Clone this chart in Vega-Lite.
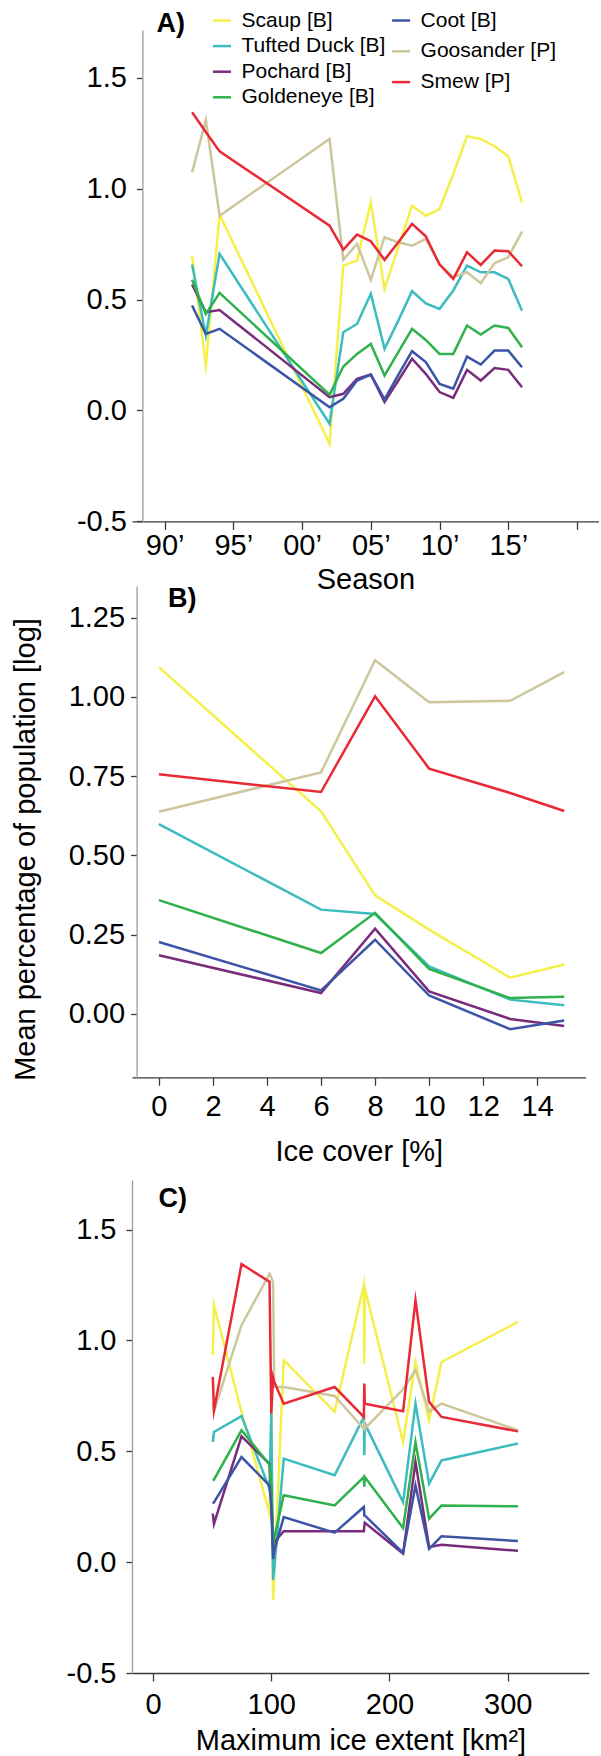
{
"$schema": "https://vega.github.io/schema/vega-lite/v6.json",
"background": "white",
"padding": {"left": 11, "top": 9, "right": 0, "bottom": 2},
"config": {
  "view": {"stroke": null},
  "font": "Liberation Sans",
  "axis": {"labelFont": "Liberation Sans", "labelFontSize": 29, "labelColor": "#000", "titleFont": "Liberation Sans", "titleFontSize": 29, "titleFontWeight": "normal", "titleColor": "#000", "grid": false, "tickColor": "#3a3a3a", "tickWidth": 1.3, "domainWidth": 1.3, "labelFlush": false, "labelOverlap": false},
  "axisX": {"domainColor": "#3a3a3a", "tickSize": 8},
  "axisY": {"domainColor": "#9d9d9d", "tickSize": 6, "labelPadding": 10},
  "title": {"font": "Liberation Sans", "fontSize": 27, "fontWeight": "bold", "color": "#000", "anchor": "start", "frame": "group", "baseline": "alphabetic"},
  "legend": {"labelFont": "Liberation Sans", "labelFontSize": 21, "labelColor": "#000", "symbolType": "stroke", "symbolStrokeWidth": 4, "symbolSize": 324, "labelOffset": 9, "padding": 0},
  "line": {"strokeWidth": 2.5, "strokeMiterLimit": 10}
},
"datasets": {
  "a": [
    {"s":"Scaup [B]","x":1992,"v":0.698},{"s":"Scaup [B]","x":1993,"v":0.203},{"s":"Scaup [B]","x":1994,"v":0.883},{"s":"Scaup [B]","x":2002,"v":-0.15},{"s":"Scaup [B]","x":2003,"v":0.653},{"s":"Scaup [B]","x":2004,"v":0.676},{"s":"Scaup [B]","x":2005,"v":0.938},{"s":"Scaup [B]","x":2006,"v":0.548},{"s":"Scaup [B]","x":2007,"v":0.736},{"s":"Scaup [B]","x":2008,"v":0.923},{"s":"Scaup [B]","x":2009,"v":0.878},{"s":"Scaup [B]","x":2010,"v":0.908},{"s":"Scaup [B]","x":2011,"v":1.066},{"s":"Scaup [B]","x":2012,"v":1.236},{"s":"Scaup [B]","x":2013,"v":1.224},{"s":"Scaup [B]","x":2014,"v":1.191},{"s":"Scaup [B]","x":2015,"v":1.146},{"s":"Scaup [B]","x":2016,"v":0.938},
    {"s":"Tufted Duck [B]","x":1992,"v":0.658},{"s":"Tufted Duck [B]","x":1993,"v":0.338},{"s":"Tufted Duck [B]","x":1994,"v":0.706},{"s":"Tufted Duck [B]","x":2002,"v":-0.06},{"s":"Tufted Duck [B]","x":2003,"v":0.353},{"s":"Tufted Duck [B]","x":2004,"v":0.39},{"s":"Tufted Duck [B]","x":2005,"v":0.526},{"s":"Tufted Duck [B]","x":2006,"v":0.278},{"s":"Tufted Duck [B]","x":2007,"v":0.405},{"s":"Tufted Duck [B]","x":2008,"v":0.538},{"s":"Tufted Duck [B]","x":2009,"v":0.483},{"s":"Tufted Duck [B]","x":2010,"v":0.458},{"s":"Tufted Duck [B]","x":2011,"v":0.541},{"s":"Tufted Duck [B]","x":2012,"v":0.653},{"s":"Tufted Duck [B]","x":2013,"v":0.623},{"s":"Tufted Duck [B]","x":2014,"v":0.623},{"s":"Tufted Duck [B]","x":2015,"v":0.593},{"s":"Tufted Duck [B]","x":2016,"v":0.45},
    {"s":"Pochard [B]","x":1992,"v":0.568},{"s":"Pochard [B]","x":1993,"v":0.443},{"s":"Pochard [B]","x":1994,"v":0.453},{"s":"Pochard [B]","x":2002,"v":0.06},{"s":"Pochard [B]","x":2003,"v":0.075},{"s":"Pochard [B]","x":2004,"v":0.143},{"s":"Pochard [B]","x":2005,"v":0.162},{"s":"Pochard [B]","x":2006,"v":0.038},{"s":"Pochard [B]","x":2007,"v":0.135},{"s":"Pochard [B]","x":2008,"v":0.233},{"s":"Pochard [B]","x":2009,"v":0.165},{"s":"Pochard [B]","x":2010,"v":0.083},{"s":"Pochard [B]","x":2011,"v":0.057},{"s":"Pochard [B]","x":2012,"v":0.183},{"s":"Pochard [B]","x":2013,"v":0.135},{"s":"Pochard [B]","x":2014,"v":0.191},{"s":"Pochard [B]","x":2015,"v":0.183},{"s":"Pochard [B]","x":2016,"v":0.105},
    {"s":"Goldeneye [B]","x":1992,"v":0.589},{"s":"Goldeneye [B]","x":1993,"v":0.435},{"s":"Goldeneye [B]","x":1994,"v":0.53},{"s":"Goldeneye [B]","x":2002,"v":0.071},{"s":"Goldeneye [B]","x":2003,"v":0.198},{"s":"Goldeneye [B]","x":2004,"v":0.255},{"s":"Goldeneye [B]","x":2005,"v":0.3},{"s":"Goldeneye [B]","x":2006,"v":0.158},{"s":"Goldeneye [B]","x":2007,"v":0.263},{"s":"Goldeneye [B]","x":2008,"v":0.368},{"s":"Goldeneye [B]","x":2009,"v":0.318},{"s":"Goldeneye [B]","x":2010,"v":0.255},{"s":"Goldeneye [B]","x":2011,"v":0.255},{"s":"Goldeneye [B]","x":2012,"v":0.383},{"s":"Goldeneye [B]","x":2013,"v":0.342},{"s":"Goldeneye [B]","x":2014,"v":0.383},{"s":"Goldeneye [B]","x":2015,"v":0.372},{"s":"Goldeneye [B]","x":2016,"v":0.285},
    {"s":"Coot [B]","x":1992,"v":0.473},{"s":"Coot [B]","x":1993,"v":0.345},{"s":"Coot [B]","x":1994,"v":0.368},{"s":"Coot [B]","x":2002,"v":0.015},{"s":"Coot [B]","x":2003,"v":0.053},{"s":"Coot [B]","x":2004,"v":0.135},{"s":"Coot [B]","x":2005,"v":0.162},{"s":"Coot [B]","x":2006,"v":0.05},{"s":"Coot [B]","x":2007,"v":0.16},{"s":"Coot [B]","x":2008,"v":0.267},{"s":"Coot [B]","x":2009,"v":0.218},{"s":"Coot [B]","x":2010,"v":0.12},{"s":"Coot [B]","x":2011,"v":0.098},{"s":"Coot [B]","x":2012,"v":0.243},{"s":"Coot [B]","x":2013,"v":0.207},{"s":"Coot [B]","x":2014,"v":0.27},{"s":"Coot [B]","x":2015,"v":0.27},{"s":"Coot [B]","x":2016,"v":0.195},
    {"s":"Goosander [P]","x":1992,"v":1.073},{"s":"Goosander [P]","x":1993,"v":1.309},{"s":"Goosander [P]","x":1994,"v":0.878},{"s":"Goosander [P]","x":2002,"v":1.224},{"s":"Goosander [P]","x":2003,"v":0.679},{"s":"Goosander [P]","x":2004,"v":0.751},{"s":"Goosander [P]","x":2005,"v":0.589},{"s":"Goosander [P]","x":2006,"v":0.781},{"s":"Goosander [P]","x":2007,"v":0.758},{"s":"Goosander [P]","x":2008,"v":0.743},{"s":"Goosander [P]","x":2009,"v":0.773},{"s":"Goosander [P]","x":2010,"v":0.661},{"s":"Goosander [P]","x":2011,"v":0.601},{"s":"Goosander [P]","x":2012,"v":0.623},{"s":"Goosander [P]","x":2013,"v":0.574},{"s":"Goosander [P]","x":2014,"v":0.664},{"s":"Goosander [P]","x":2015,"v":0.691},{"s":"Goosander [P]","x":2016,"v":0.806},
    {"s":"Smew [P]","x":1992,"v":1.344},{"s":"Smew [P]","x":1993,"v":1.255},{"s":"Smew [P]","x":1994,"v":1.168},{"s":"Smew [P]","x":2002,"v":0.833},{"s":"Smew [P]","x":2003,"v":0.725},{"s":"Smew [P]","x":2004,"v":0.793},{"s":"Smew [P]","x":2005,"v":0.763},{"s":"Smew [P]","x":2006,"v":0.679},{"s":"Smew [P]","x":2007,"v":0.758},{"s":"Smew [P]","x":2008,"v":0.841},{"s":"Smew [P]","x":2009,"v":0.785},{"s":"Smew [P]","x":2010,"v":0.658},{"s":"Smew [P]","x":2011,"v":0.593},{"s":"Smew [P]","x":2012,"v":0.713},{"s":"Smew [P]","x":2013,"v":0.656},{"s":"Smew [P]","x":2014,"v":0.721},{"s":"Smew [P]","x":2015,"v":0.718},{"s":"Smew [P]","x":2016,"v":0.65}
  ],
  "b": [
    {"s":"Scaup [B]","x":0,"v":1.094},{"s":"Scaup [B]","x":6,"v":0.639},{"s":"Scaup [B]","x":8,"v":0.374},{"s":"Scaup [B]","x":10,"v":0.266},{"s":"Scaup [B]","x":13,"v":0.114},{"s":"Scaup [B]","x":15,"v":0.156},
    {"s":"Tufted Duck [B]","x":0,"v":0.599},{"s":"Tufted Duck [B]","x":6,"v":0.329},{"s":"Tufted Duck [B]","x":8,"v":0.315},{"s":"Tufted Duck [B]","x":10,"v":0.15},{"s":"Tufted Duck [B]","x":13,"v":0.045},{"s":"Tufted Duck [B]","x":15,"v":0.027},
    {"s":"Pochard [B]","x":0,"v":0.185},{"s":"Pochard [B]","x":6,"v":0.066},{"s":"Pochard [B]","x":8,"v":0.269},{"s":"Pochard [B]","x":10,"v":0.071},{"s":"Pochard [B]","x":13,"v":-0.016},{"s":"Pochard [B]","x":15,"v":-0.038},
    {"s":"Goldeneye [B]","x":0,"v":0.359},{"s":"Goldeneye [B]","x":6,"v":0.192},{"s":"Goldeneye [B]","x":8,"v":0.319},{"s":"Goldeneye [B]","x":10,"v":0.142},{"s":"Goldeneye [B]","x":13,"v":0.05},{"s":"Goldeneye [B]","x":15,"v":0.054},
    {"s":"Coot [B]","x":0,"v":0.227},{"s":"Coot [B]","x":6,"v":0.074},{"s":"Coot [B]","x":8,"v":0.234},{"s":"Coot [B]","x":10,"v":0.058},{"s":"Coot [B]","x":13,"v":-0.048},{"s":"Coot [B]","x":15,"v":-0.021},
    {"s":"Goosander [P]","x":0,"v":0.638},{"s":"Goosander [P]","x":6,"v":0.762},{"s":"Goosander [P]","x":8,"v":1.116},{"s":"Goosander [P]","x":10,"v":0.983},{"s":"Goosander [P]","x":13,"v":0.988},{"s":"Goosander [P]","x":15,"v":1.078},
    {"s":"Smew [P]","x":0,"v":0.756},{"s":"Smew [P]","x":6,"v":0.7},{"s":"Smew [P]","x":8,"v":1.002},{"s":"Smew [P]","x":10,"v":0.774},{"s":"Smew [P]","x":13,"v":0.697},{"s":"Smew [P]","x":15,"v":0.64}
  ],
  "c": [
    {"s":"Scaup [B]","o":1,"x":50.5,"v":0.934},{"s":"Scaup [B]","o":2,"x":51.5,"v":1.159},{"s":"Scaup [B]","o":3,"x":74.8,"v":0.678},{"s":"Scaup [B]","o":4,"x":98.5,"v":0.22},{"s":"Scaup [B]","o":5,"x":100,"v":0.685},{"s":"Scaup [B]","o":6,"x":101.5,"v":-0.17},{"s":"Scaup [B]","o":7,"x":102.5,"v":-0.06},{"s":"Scaup [B]","o":8,"x":110.5,"v":0.911},{"s":"Scaup [B]","o":9,"x":153.6,"v":0.678},{"s":"Scaup [B]","o":10,"x":178.3,"v":1.25},{"s":"Scaup [B]","o":11,"x":178.7,"v":0.896},{"s":"Scaup [B]","o":12,"x":179.1,"v":1.235},{"s":"Scaup [B]","o":13,"x":211.5,"v":0.542},{"s":"Scaup [B]","o":14,"x":222,"v":0.903},{"s":"Scaup [B]","o":15,"x":233.5,"v":0.64},{"s":"Scaup [B]","o":16,"x":244,"v":0.903},{"s":"Scaup [B]","o":17,"x":308.7,"v":1.084},
    {"s":"Tufted Duck [B]","o":1,"x":50.5,"v":0.542},{"s":"Tufted Duck [B]","o":2,"x":51.5,"v":0.587},{"s":"Tufted Duck [B]","o":3,"x":74.8,"v":0.659},{"s":"Tufted Duck [B]","o":4,"x":98.5,"v":0.33},{"s":"Tufted Duck [B]","o":5,"x":100,"v":0.67},{"s":"Tufted Duck [B]","o":6,"x":101.5,"v":-0.08},{"s":"Tufted Duck [B]","o":7,"x":102.5,"v":-0.03},{"s":"Tufted Duck [B]","o":8,"x":110.5,"v":0.467},{"s":"Tufted Duck [B]","o":9,"x":153.6,"v":0.392},{"s":"Tufted Duck [B]","o":10,"x":178.3,"v":0.655},{"s":"Tufted Duck [B]","o":11,"x":178.7,"v":0.482},{"s":"Tufted Duck [B]","o":12,"x":179.1,"v":0.625},{"s":"Tufted Duck [B]","o":13,"x":211.5,"v":0.271},{"s":"Tufted Duck [B]","o":14,"x":222,"v":0.715},{"s":"Tufted Duck [B]","o":15,"x":233.5,"v":0.354},{"s":"Tufted Duck [B]","o":16,"x":244,"v":0.459},{"s":"Tufted Duck [B]","o":17,"x":308.7,"v":0.535},
    {"s":"Pochard [B]","o":1,"x":50.5,"v":0.219},{"s":"Pochard [B]","o":2,"x":51.5,"v":0.173},{"s":"Pochard [B]","o":3,"x":74.8,"v":0.568},{"s":"Pochard [B]","o":4,"x":98.5,"v":0.444},{"s":"Pochard [B]","o":5,"x":100,"v":0.3},{"s":"Pochard [B]","o":6,"x":101.5,"v":0.06},{"s":"Pochard [B]","o":7,"x":102.5,"v":0.09},{"s":"Pochard [B]","o":8,"x":110.5,"v":0.14},{"s":"Pochard [B]","o":9,"x":153.6,"v":0.139},{"s":"Pochard [B]","o":10,"x":178.3,"v":0.139},{"s":"Pochard [B]","o":11,"x":178.7,"v":0.165},{"s":"Pochard [B]","o":12,"x":179.1,"v":0.178},{"s":"Pochard [B]","o":13,"x":211.5,"v":0.038},{"s":"Pochard [B]","o":14,"x":222,"v":0.452},{"s":"Pochard [B]","o":15,"x":233.5,"v":0.068},{"s":"Pochard [B]","o":16,"x":244,"v":0.079},{"s":"Pochard [B]","o":17,"x":308.7,"v":0.051},
    {"s":"Goldeneye [B]","o":1,"x":50.5,"v":0.368},{"s":"Goldeneye [B]","o":2,"x":51.5,"v":0.372},{"s":"Goldeneye [B]","o":3,"x":74.8,"v":0.595},{"s":"Goldeneye [B]","o":4,"x":98.5,"v":0.44},{"s":"Goldeneye [B]","o":5,"x":100,"v":0.34},{"s":"Goldeneye [B]","o":6,"x":101.5,"v":0.071},{"s":"Goldeneye [B]","o":7,"x":102.5,"v":0.11},{"s":"Goldeneye [B]","o":8,"x":110.5,"v":0.302},{"s":"Goldeneye [B]","o":9,"x":153.6,"v":0.256},{"s":"Goldeneye [B]","o":10,"x":178.3,"v":0.384},{"s":"Goldeneye [B]","o":11,"x":178.7,"v":0.34},{"s":"Goldeneye [B]","o":12,"x":179.1,"v":0.384},{"s":"Goldeneye [B]","o":13,"x":211.5,"v":0.154},{"s":"Goldeneye [B]","o":14,"x":222,"v":0.542},{"s":"Goldeneye [B]","o":15,"x":233.5,"v":0.196},{"s":"Goldeneye [B]","o":16,"x":244,"v":0.256},{"s":"Goldeneye [B]","o":17,"x":308.7,"v":0.252},
    {"s":"Coot [B]","o":1,"x":50.5,"v":0.264},{"s":"Coot [B]","o":2,"x":51.5,"v":0.27},{"s":"Coot [B]","o":3,"x":74.8,"v":0.474},{"s":"Coot [B]","o":4,"x":98.5,"v":0.346},{"s":"Coot [B]","o":5,"x":100,"v":0.25},{"s":"Coot [B]","o":6,"x":101.5,"v":0.015},{"s":"Coot [B]","o":7,"x":102.5,"v":0.05},{"s":"Coot [B]","o":8,"x":110.5,"v":0.203},{"s":"Coot [B]","o":9,"x":153.6,"v":0.133},{"s":"Coot [B]","o":10,"x":178.3,"v":0.249},{"s":"Coot [B]","o":11,"x":178.7,"v":0.211},{"s":"Coot [B]","o":12,"x":179.1,"v":0.211},{"s":"Coot [B]","o":13,"x":211.5,"v":0.042},{"s":"Coot [B]","o":14,"x":222,"v":0.346},{"s":"Coot [B]","o":15,"x":233.5,"v":0.06},{"s":"Coot [B]","o":16,"x":244,"v":0.117},{"s":"Coot [B]","o":17,"x":308.7,"v":0.095},
    {"s":"Goosander [P]","o":1,"x":50.5,"v":0.72},{"s":"Goosander [P]","o":2,"x":51.5,"v":0.68},{"s":"Goosander [P]","o":3,"x":74.8,"v":1.069},{"s":"Goosander [P]","o":4,"x":98.5,"v":1.3},{"s":"Goosander [P]","o":5,"x":100,"v":1.285},{"s":"Goosander [P]","o":6,"x":101.5,"v":1.26},{"s":"Goosander [P]","o":7,"x":102.5,"v":0.79},{"s":"Goosander [P]","o":8,"x":110.5,"v":0.79},{"s":"Goosander [P]","o":9,"x":153.6,"v":0.75},{"s":"Goosander [P]","o":10,"x":178.3,"v":0.602},{"s":"Goosander [P]","o":11,"x":178.7,"v":0.62},{"s":"Goosander [P]","o":12,"x":179.1,"v":0.602},{"s":"Goosander [P]","o":13,"x":211.5,"v":0.78},{"s":"Goosander [P]","o":14,"x":222,"v":0.866},{"s":"Goosander [P]","o":15,"x":233.5,"v":0.679},{"s":"Goosander [P]","o":16,"x":244,"v":0.715},{"s":"Goosander [P]","o":17,"x":308.7,"v":0.595},
    {"s":"Smew [P]","o":1,"x":50.5,"v":0.836},{"s":"Smew [P]","o":2,"x":51.5,"v":0.685},{"s":"Smew [P]","o":3,"x":74.8,"v":1.345},{"s":"Smew [P]","o":4,"x":98.5,"v":1.265},{"s":"Smew [P]","o":5,"x":100,"v":0.67},{"s":"Smew [P]","o":6,"x":101.5,"v":0.833},{"s":"Smew [P]","o":7,"x":102.5,"v":0.813},{"s":"Smew [P]","o":8,"x":110.5,"v":0.715},{"s":"Smew [P]","o":9,"x":153.6,"v":0.79},{"s":"Smew [P]","o":10,"x":178.3,"v":0.655},{"s":"Smew [P]","o":11,"x":178.7,"v":0.806},{"s":"Smew [P]","o":12,"x":179.1,"v":0.715},{"s":"Smew [P]","o":13,"x":211.5,"v":0.681},{"s":"Smew [P]","o":14,"x":222,"v":1.182},{"s":"Smew [P]","o":15,"x":233.5,"v":0.723},{"s":"Smew [P]","o":16,"x":244,"v":0.655},{"s":"Smew [P]","o":17,"x":308.7,"v":0.59}
  ]
},
"resolve": {"scale": {"color": "independent"}, "legend": {"color": "independent"}},
"spacing": 0,
"vconcat": [
  {
    "width": 466.8, "height": 491.4,
    "title": {"text": "A)", "offset": -27.7, "dx": 24.5},
    "data": {"name": "a"},
    "encoding": {
      "x": {"field": "x", "type": "quantitative", "scale": {"domain": [1987.629, 2021.585], "nice": false, "zero": false},
            "axis": {"values": [1990,1995,2000,2005,2010,2015,2020], "labelExpr": "datum.value == 2020 ? '' : substring(toString(datum.value), 2, 4) + '\u2019'", "title": ["Season", ""], "titleLineHeight": -10, "labelPadding": 2, "titlePadding": 5}},
      "y": {"field": "v", "type": "quantitative", "scale": {"domain": [-0.5, 1.715], "nice": false, "zero": false},
            "axis": {"values": [-0.5,0,0.5,1,1.5], "labelExpr": "replace(format(datum.value,'.1f'),'\u2212','-')", "title": null, "offset": -10.4}}
    },
    "layer": [
      {"transform": [{"filter": "indexof(['Scaup [B]','Tufted Duck [B]','Pochard [B]','Goldeneye [B]'], datum.s) >= 0"}],
       "mark": {"type": "line"},
       "encoding": {"color": {"field": "s", "type": "nominal",
          "scale": {"domain": ["Scaup [B]","Tufted Duck [B]","Pochard [B]","Goldeneye [B]"], "range": ["#f4f04a","#3cbcbf","#7a2c7c","#2fb14b"]},
          "legend": {"orient": "none", "legendX": 79.5, "legendY": -20, "title": null, "rowPadding": 0.6}}}},
      {"transform": [{"filter": "indexof(['Coot [B]','Goosander [P]','Smew [P]'], datum.s) >= 0"}],
       "mark": {"type": "line"},
       "encoding": {"color": {"field": "s", "type": "nominal",
          "scale": {"domain": ["Coot [B]","Goosander [P]","Smew [P]"], "range": ["#3b54a5","#cdc79b","#e92a36"]},
          "legend": {"orient": "none", "legendX": 258.6, "legendY": -20, "title": null, "rowPadding": 5.8}}}}
    ],
    "resolve": {"scale": {"color": "independent"}, "legend": {"color": "independent"}}
  },
  {
    "width": 453.5, "height": 491.3,
    "title": {"text": "B)", "offset": -27.3, "dx": 36},
    "data": {"name": "b"},
    "mark": {"type": "line"},
    "encoding": {
      "x": {"field": "x", "type": "quantitative", "scale": {"domain": [-0.996, 15.788], "nice": false, "zero": false},
            "axis": {"values": [0,2,4,6,8,10,12,14], "format": "d", "title": ["Ice cover [%]", ""], "titleLineHeight": 13, "labelPadding": 7.5, "titlePadding": 16}},
      "y": {"field": "v", "type": "quantitative", "scale": {"domain": [-0.2, 1.35], "nice": false, "zero": false},
            "axis": {"values": [0,0.25,0.5,0.75,1,1.25], "labelExpr": "replace(format(datum.value,'.2f'),'\u2212','-')", "title": "Mean percentage of population [log]", "titlePadding": 28, "titleY": 263, "labelPadding": 6, "offset": -4.6}},
      "color": {"field": "s", "type": "nominal",
          "scale": {"domain": ["Scaup [B]","Tufted Duck [B]","Pochard [B]","Goldeneye [B]","Coot [B]","Goosander [P]","Smew [P]"], "range": ["#f4f04a","#3cbcbf","#7a2c7c","#2fb14b","#3b54a5","#cdc79b","#e92a36"]},
          "legend": null}
    }
  },
  {
    "width": 456.9, "height": 493,
    "title": {"text": "C)", "offset": -33, "dx": 26.5},
    "data": {"name": "c"},
    "mark": {"type": "line"},
    "encoding": {
      "x": {"field": "x", "type": "quantitative", "scale": {"domain": [-17.85, 368.7], "nice": false, "zero": false},
            "axis": {"values": [0,100,200,300], "format": "d", "title": "Maximum ice extent [km\u00b2]", "labelPadding": 9, "titlePadding": 7}},
      "y": {"field": "v", "type": "quantitative", "scale": {"domain": [-0.5, 1.724], "nice": false, "zero": false},
            "axis": {"values": [-0.5,0,0.5,1,1.5], "labelExpr": "replace(format(datum.value,'.1f'),'\u2212','-')", "title": null}},
      "color": {"field": "s", "type": "nominal",
          "scale": {"domain": ["Scaup [B]","Tufted Duck [B]","Pochard [B]","Goldeneye [B]","Coot [B]","Goosander [P]","Smew [P]"], "range": ["#f4f04a","#3cbcbf","#7a2c7c","#2fb14b","#3b54a5","#cdc79b","#e92a36"]},
          "legend": null},
      "order": {"field": "o", "type": "quantitative"}
    }
  }
]
}
